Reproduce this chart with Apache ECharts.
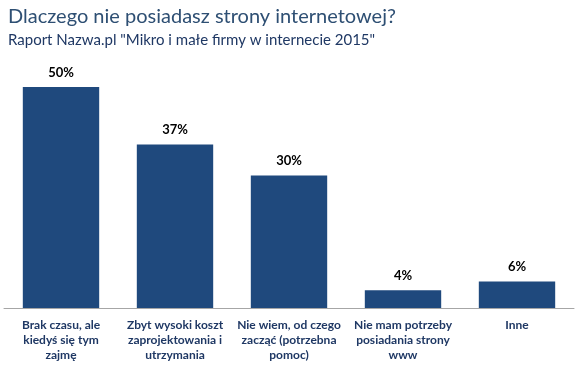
<!DOCTYPE html>
<html><head><meta charset="utf-8">
<script src="https://cdn.jsdelivr.net/npm/echarts@6/dist/echarts.min.js"></script>
<style>html,body{margin:0;padding:0;background:#fff}#c{width:584px;height:372px}</style>
</head><body><div id="c"></div>
<script>
const categories = [
  "Brak czasu, ale\nkiedyś się tym\nzajmę",
  "Zbyt wysoki koszt\nzaprojektowania i\nutrzymania",
  "Nie wiem, od czego\nzacząć (potrzebna\npomoc)",
  "Nie mam potrzeby\nposiadania strony\nwww",
  "Inne"
];
const values = [50, 37, 30, 4, 6];
const titleText = "Dlaczego nie posiadasz strony internetowej?";
const subtitleText = 'Raport Nazwa.pl "Mikro i małe firmy w internecie 2015"';

const chart = echarts.init(document.getElementById('c'));
chart.setOption({
  animation: false,
  title: {
    text: titleText,
    subtext: subtitleText,
    left: 3, top: 2,
    itemGap: 6,
    textStyle: {fontFamily: 'Lato', fontSize: 20, fontWeight: 'normal', color: '#2e4f73'},
    subtextStyle: {fontFamily: 'Lato', fontSize: 15, color: '#1f3864'}
  },
  grid: {left: 4, right: 10, top: 87, bottom: 64},
  xAxis: {
    type: 'category', data: categories,
    axisLine: {lineStyle: {color: '#a6a6a6'}},
    axisTick: {show: false},
    axisLabel: {interval: 0, fontFamily: 'Lato', fontSize: 12, fontWeight: 'bold', color: '#1f3864', lineHeight: 15, margin: 10}
  },
  yAxis: {type: 'value', min: 0, max: 50, show: false, splitLine: {show: false}},
  series: [{
    type: 'bar', data: values, barWidth: '67%',
    itemStyle: {color: '#1f497d'},
    label: {show: true, position: 'top', formatter: '{c}%', fontFamily: 'Lato', fontSize: 13, fontWeight: 'bold', color: '#000', distance: 8}
  }]
});
</script></body></html>
